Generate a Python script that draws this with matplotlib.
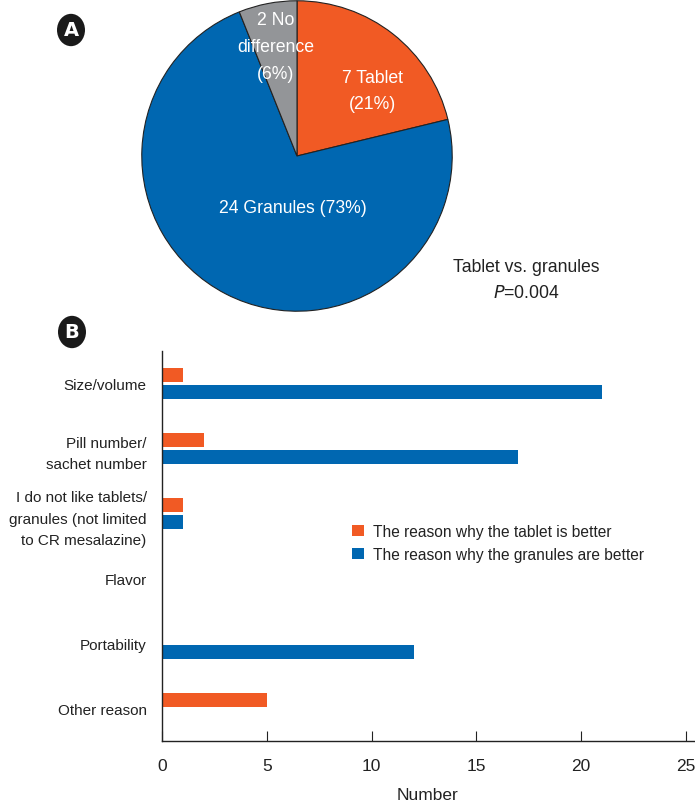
import matplotlib
matplotlib.use("Agg")
import matplotlib.pyplot as plt
import numpy as np
from matplotlib.patches import Circle

plt.rcParams['font.family'] = ['Liberation Sans', 'DejaVu Sans']

# Pie data
pie_labels = ["7 Tablet\n(21%)", "24 Granules (73%)", "2 No\ndifference\n(6%)"]
pie_values = [7, 24, 2]
pie_colors = ["#F15A24", "#0067B1", "#939598"]

# Bar data
categories = ["Size/volume", "Pill number/\nsachet number",
              "I do not like tablets/\ngranules (not limited\nto CR mesalazine)",
              "Flavor", "Portability", "Other reason"]
tablet_vals = [1, 2, 1, 0, 0, 5]
granule_vals = [21, 17, 1, 0, 12, 0]
legend_labels = ["The reason why the tablet is better",
                 "The reason why the granules are better"]
xticks = [0, 5, 10, 15, 20, 25]

W, H = 695, 803
fig = plt.figure(figsize=(W/100, H/100), dpi=100)

def fx(px): return px / W
def fy(py): return 1 - py / H

TXT = "#222222"

# Pie
axp = fig.add_axes([fx(141), fy(313), 312/W, 312/H])
wedges, _ = axp.pie(pie_values, colors=pie_colors, startangle=90, counterclock=False,
                    wedgeprops=dict(edgecolor="#222222", linewidth=0.8))
axp.set_xlim(-1.005, 1.005)
axp.set_ylim(-1.005, 1.005)
axp.set_aspect('equal')
fig.text(fx(372), fy(91.5), pie_labels[0], color="white", fontsize=12.7, ha="center", va="center", linespacing=1.75)
fig.text(fx(293), fy(209), pie_labels[1], color="white", fontsize=12.7, ha="center", va="center")
fig.text(fx(276), fy(47.5), pie_labels[2], color="white", fontsize=12.7, ha="center", va="center", linespacing=1.75)
fig.text(fx(526), fy(268), "Tablet vs. granules", color=TXT, fontsize=12.7, ha="center", va="center")
fig.text(fx(526), fy(294), "$\\it{P}$=0.004", color=TXT, fontsize=12.7, ha="center", va="center")

# Badges
for lab, (cx, cy) in [("A", (71, 31)), ("B", (72, 333))]:
    fig.patches.append(Circle((fx(cx), fy(cy)), 14/W, transform=fig.transFigure,
                              facecolor="#1a1a1a", edgecolor="none"))
    fig.text(fx(cx), fy(cy), lab, color="white", fontsize=14, fontweight="bold",
             ha="center", va="center", family="DejaVu Sans")

# Bars
axb = fig.add_axes([fx(162), fy(742), 532/W, 390/H])
y = np.arange(len(categories))
h = 0.215
off = 0.125
axb.barh(y - off, tablet_vals, height=h, color=pie_colors[0], label=legend_labels[0])
axb.barh(y + off, granule_vals, height=h, color=pie_colors[1], label=legend_labels[1])
axb.set_ylim(5.5, -0.5)
axb.set_xlim(0, 25.38)
axb.set_yticks(y)
axb.set_yticklabels(categories, fontsize=11, color=TXT, linespacing=1.65)
axb.tick_params(axis='y', length=0, pad=11)
axb.set_xticks(xticks)
axb.tick_params(axis='x', direction='in', length=7, labelsize=12.5, pad=12, colors=TXT)
for s in ["top", "right"]:
    axb.spines[s].set_visible(False)
for s in ["left", "bottom"]:
    axb.spines[s].set_color("#222222")
    axb.spines[s].set_linewidth(1)
axb.set_xlabel("Number", fontsize=12.5, color=TXT, labelpad=10)
leg = axb.legend(frameon=False, fontsize=11.2, handlelength=0.75, handleheight=0.75,
                 handletextpad=0.6, labelspacing=0.5, loc="center left",
                 borderpad=0, borderaxespad=0,
                 bbox_to_anchor=((352 - 162) / 532, 1 - (544 - 352) / 390))
for t in leg.get_texts():
    t.set_color(TXT)

fig.savefig("out.png", dpi=100)
